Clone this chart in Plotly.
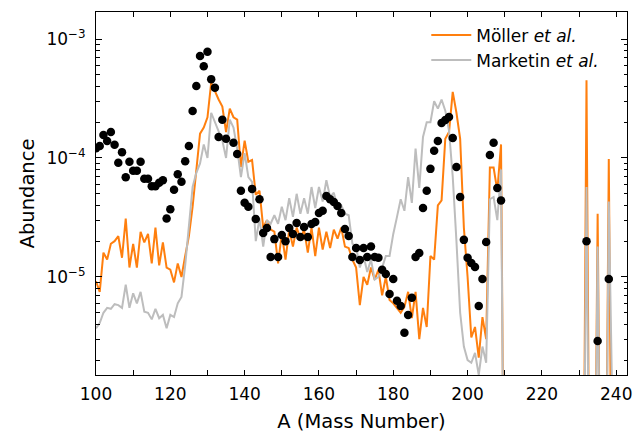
import plotly.graph_objects as go

# Mass numbers for the model curves (A = 100 ... 240)
mass = list(range(100, 241))

# Möller et al. abundances (values far below the axis are effectively zero)
moller = [
    9.2e-6, 7.5e-6, 1.6e-5, 1.4e-5, 1.9e-5, 2.0e-5, 2.2e-5, 1.45e-5, 3.1e-5, 1.2e-5,   # 100-109
    1.9e-5, 1.2e-5, 2.4e-5, 1.95e-5, 2.3e-5, 1.3e-5, 2.6e-5, 1.25e-5, 1.95e-5, 1.2e-5, # 110-119
    1.15e-5, 9.0e-6, 1.3e-5, 1.0e-5, 1.5e-5, 2.2e-5, 3.9e-5, 8.4e-5, 1.6e-4, 1.8e-4,   # 120-129
    2.2e-4, 4.3e-4, 3.6e-4, 3.1e-4, 2.7e-4, 1.65e-4, 2.6e-4, 2.2e-4, 2.1e-4, 8.4e-5,   # 130-139
    1.4e-4, 9.3e-5, 9.6e-5, 4.9e-5, 5.3e-5, 2.6e-5, 3.0e-5, 2.5e-5, 2.4e-5, 1.3e-5,    # 140-149
    2.3e-5, 1.4e-5, 2.5e-5, 1.8e-5, 2.6e-5, 2.1e-5, 2.5e-5, 1.6e-5, 2.6e-5, 1.5e-5,    # 150-159
    2.6e-5, 1.7e-5, 2.4e-5, 1.75e-5, 2.5e-5, 2.1e-5, 2.6e-5, 1.8e-5, 1.75e-5, 1.4e-5,  # 160-169
    1.2e-5, 5.8e-6, 1.0e-5, 8.6e-6, 1.2e-5, 9.5e-6, 1.15e-5, 7.0e-6, 1.0e-5, 6.4e-6,   # 170-179
    6.0e-6, 5.5e-6, 5.0e-6, 5.6e-6, 7.5e-6, 4.5e-6, 7.5e-6, 3.0e-6, 5.5e-6, 3.8e-6,    # 180-189
    1.5e-5, 1.4e-5, 4.0e-5, 4.4e-5, 1.45e-4, 1.65e-4, 3.6e-4, 2.4e-4, 1.45e-4, 2.6e-5, # 190-199
    1.0e-5, 3.1e-6, 3.8e-6, 2.1e-6, 4.6e-6, 3.0e-6, 8.3e-5, 8.3e-5, 5.3e-5, 1.3e-4,    # 200-209
    1e-8, 1e-8, 1e-8, 1e-8, 1e-8, 1e-8, 1e-8, 1e-8, 1e-8, 1e-8,                        # 210-219
    1e-8, 1e-8, 1e-8, 1e-8, 1e-8, 1e-8, 1e-8, 1e-8, 1e-8, 1e-8,                        # 220-229
    1e-8, 1e-8, 4.5e-4, 1e-8, 1e-8, 3.4e-5, 1e-8, 1e-8, 9.8e-5, 1e-8,                  # 230-239
    1e-8,                                                                              # 240
]

# Marketin et al. abundances
marketin = [
    3.7e-6, 4.1e-6, 5.0e-6, 5.5e-6, 5.4e-6, 5.9e-6, 5.8e-6, 5.5e-6, 8.6e-6, 5.5e-6,    # 100-109
    7.3e-6, 6.0e-6, 7.5e-6, 5.1e-6, 5.0e-6, 4.4e-6, 5.4e-6, 4.5e-6, 4.8e-6, 3.7e-6,    # 110-119
    4.8e-6, 4.6e-6, 6.0e-6, 6.8e-6, 1.25e-5, 2.5e-5, 5.7e-5, 7.5e-5, 9.0e-5, 1.3e-4,   # 120-129
    1.0e-4, 2.4e-4, 2.0e-4, 1.7e-4, 1.4e-4, 1.0e-4, 2.1e-4, 1.8e-4, 1.2e-4, 6.9e-5,    # 130-139
    1.1e-4, 6.9e-5, 6.3e-5, 2.0e-5, 3.1e-5, 1.8e-5, 3.0e-5, 2.8e-5, 3.3e-5, 2.8e-5,    # 140-149
    3.9e-5, 3.0e-5, 4.6e-5, 3.2e-5, 5.0e-5, 3.4e-5, 4.6e-5, 3.4e-5, 5.7e-5, 3.8e-5,    # 150-159
    5.7e-5, 4.3e-5, 6.5e-5, 4.7e-5, 5.1e-5, 3.8e-5, 4.0e-5, 3.4e-5, 3.3e-5, 1.9e-5,    # 160-169
    1.8e-5, 1.2e-5, 1.5e-5, 1.1e-5, 1.4e-5, 9.5e-6, 1.0e-5, 1.2e-5, 1.5e-5, 1.5e-5,    # 170-179
    2.3e-5, 3.2e-5, 4.5e-5, 3.6e-5, 6.9e-5, 4.2e-5, 1.2e-4, 5.6e-5, 1.5e-4, 2.0e-4,    # 180-189
    2.0e-4, 3.0e-4, 2.6e-4, 3.1e-4, 2.5e-4, 1.7e-4, 7.0e-5, 2.0e-5, 5.0e-6, 2.6e-6,    # 190-199
    2.0e-6, 1.9e-6, 2.3e-6, 1.5e-6, 2.6e-6, 1.9e-6, 4.5e-5, 4.7e-5, 3.0e-5, 8.0e-5,    # 200-209
    1e-8, 1e-8, 1e-8, 1e-8, 1e-8, 1e-8, 1e-8, 1e-8, 1e-8, 1e-8,                        # 210-219
    1e-8, 1e-8, 1e-8, 1e-8, 1e-8, 1e-8, 1e-8, 1e-8, 1e-8, 1e-8,                        # 220-229
    1e-8, 1e-8, 5.7e-5, 1e-8, 1e-8, 1.8e-5, 1e-8, 1e-8, 4.3e-5, 1e-8,                  # 230-239
    1e-8,                                                                              # 240
]

# Observed (solar) r-process abundances, black dots
obs_mass = [
    100, 101, 102, 103, 104, 105, 106, 107, 108, 109, 110, 111, 112, 113, 114, 115, 116, 117, 118, 119,
    120, 121, 122, 123, 124, 125, 126, 127, 128, 129, 130, 131, 132, 133, 134, 135, 137, 138, 139,
    140, 141, 142, 143, 144, 145, 146, 147, 148, 149, 150, 151, 152, 153, 154, 155, 156, 157, 158, 159,
    160, 161, 162, 163, 164, 165, 166, 167, 168, 169, 170, 171, 172, 173, 174, 175, 176, 177, 178, 179,
    180, 181, 182, 183, 184, 185, 186, 187, 188, 189, 190, 191, 192, 193, 194, 195, 196, 197, 198, 199,
    200, 201, 202, 203, 204, 205, 206, 207, 208, 209, 232, 235, 238,
]
obs_abund = [
    1.21e-4, 1.26e-4, 1.56e-4, 1.39e-4, 1.65e-4, 1.29e-4, 9.1e-5, 1.12e-4, 6.9e-5, 9.3e-5,
    7.8e-5, 7.8e-5, 9.3e-5, 6.7e-5, 6.7e-5, 5.8e-5, 5.8e-5, 6.2e-5, 6.5e-5, 3.1e-5,
    3.7e-5, 5.4e-5, 7.3e-5, 6.3e-5, 9.4e-5, 1.26e-4, 2.48e-4, 4.03e-4, 7.2e-4, 5.9e-4,
    7.8e-4, 4.6e-4, 3.9e-4, 1.5e-4, 2.1e-4, 1.45e-4, 1.34e-4, 1.08e-4, 5.3e-5,
    4.2e-5, 3.9e-5, 5.5e-5, 3.07e-5, 4.5e-5, 2.34e-5, 2.58e-5, 1.47e-5, 2.08e-5, 1.47e-5,
    2.25e-5, 2.0e-5, 2.58e-5, 2.3e-5, 2.84e-5, 2.17e-5, 2.63e-5, 2.17e-5, 2.79e-5, 2.9e-5,
    3.45e-5, 3.6e-5, 4.8e-5, 4.5e-5, 4.27e-5, 3.95e-5, 3.45e-5, 2.53e-5, 2.21e-5, 1.47e-5,
    1.75e-5, 1.39e-5, 1.75e-5, 1.47e-5, 1.8e-5, 1.47e-5, 1.45e-5, 1.15e-5, 1.06e-5, 7.2e-6,
    9.6e-6, 6.3e-6, 5.7e-6, 3.4e-6, 4.8e-6, 6.7e-6, 1.47e-5, 1.59e-5, 3.8e-5, 5.3e-5,
    8.1e-5, 1.15e-4, 1.39e-4, 1.97e-4, 2.09e-4, 2.21e-4, 1.47e-4, 8.4e-5, 4.7e-5, 2.05e-5,
    1.45e-5, 1.31e-5, 1.21e-5, 5.7e-6, 9.6e-6, 1.97e-5, 1.06e-4, 1.34e-4, 5.6e-5, 4.4e-5,
    2.0e-5, 2.9e-6, 9.6e-6,
]

x_ticks = list(range(100, 250, 10))
x_ticklabels = [str(v) if v % 20 == 0 else "" for v in x_ticks]
y_ticks = [1e-5, 1e-4, 1e-3]
y_ticklabels = ["10<sup>\u22125</sup>", "10<sup>\u22124</sup>", "10<sup>\u22123</sup>"]
y_minor = [m * 10.0 ** e for e in (-6, -5, -4, -3) for m in range(2, 10)]

ORANGE = "#ff7f0e"
GREY = "#bdbdbd"
FONT = "DejaVu Sans, Liberation Sans, sans-serif"

fig = go.Figure()
fig.add_trace(go.Scatter(x=mass, y=moller, mode="lines", name="Möller <i>et al.</i>",
                         line=dict(color=ORANGE, width=2)))
fig.add_trace(go.Scatter(x=mass, y=marketin, mode="lines", name="Marketin <i>et al.</i>",
                         line=dict(color=GREY, width=2)))
fig.add_trace(go.Scatter(x=obs_mass, y=obs_abund, mode="markers", showlegend=False,
                         marker=dict(color="black", size=8.5)))

fig.update_layout(
    width=637, height=433,
    margin=dict(l=96, r=5, t=12, b=58),
    paper_bgcolor="white", plot_bgcolor="white",
    font=dict(family=FONT, size=17, color="black"),
    showlegend=True,
    legend=dict(x=0.622, y=0.985, xanchor="left", yanchor="top",
                bgcolor="rgba(0,0,0,0)", borderwidth=0,
                font=dict(size=17), itemwidth=40, tracegroupgap=0),
)
fig.update_xaxes(
    range=[100, 242.9], showline=True, linecolor="black", linewidth=1, mirror="allticks",
    ticks="inside", ticklen=5, tickwidth=1, tickcolor="black",
    tickvals=x_ticks, ticktext=x_ticklabels, showgrid=False, zeroline=False,
    ticklabeloverflow="allow", ticklabelstandoff=4,
    title=dict(text="A (Mass Number)", font=dict(size=19.5), standoff=10),
)
fig.update_yaxes(
    type="log", range=[-5.824, -2.773], showline=True, linecolor="black", linewidth=1,
    mirror="allticks", ticks="inside", ticklen=6, tickwidth=1, tickcolor="black",
    tickvals=y_ticks, ticktext=y_ticklabels, showgrid=False, zeroline=False,
    ticklabelstandoff=6,
    minor=dict(ticks="inside", ticklen=3.5, tickwidth=1, tickcolor="black",
               tickvals=y_minor, showgrid=False),
    title=dict(text="Abundance", font=dict(size=19.5), standoff=6),
)

fig.write_html("out.html")
